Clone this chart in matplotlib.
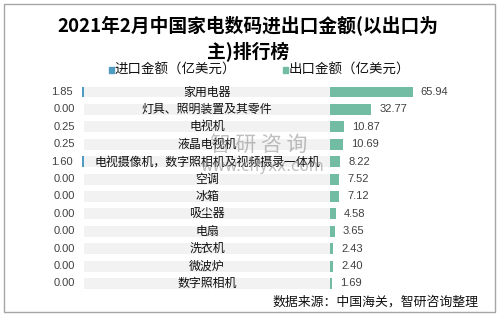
import numpy as np
import matplotlib
matplotlib.use("Agg")
import matplotlib.pyplot as plt
from matplotlib.patches import Rectangle

plt.rcParams['font.family'] = ['Noto Sans CJK SC', 'DejaVu Sans']

# -----------------------------
# Data
# -----------------------------
categories = ["家用电器", "灯具、照明装置及其零件", "电视机", "液晶电视机",
              "电视摄像机，数字照相机及视频摄录一体机", "空调", "冰箱", "吸尘器",
              "电扇", "洗衣机", "微波炉", "数字照相机"]
import_vals = [1.85, 0.00, 0.25, 0.25, 1.60, 0.00, 0.00, 0.00, 0.00, 0.00, 0.00, 0.00]
export_vals = [65.94, 32.77, 10.87, 10.69, 8.22, 7.52, 7.12, 4.58, 3.65, 2.43, 2.40, 1.69]

title = "2021年2月中国家电数码进出口金额(以出口为\n主)排行榜"
legend_labels = ["进口金额（亿美元）", "出口金额（亿美元）"]
source = "数据来源：中国海关，智研咨询整理"

import_color = "#4f9bc1"
export_color = "#72bca4"
strip_color = "#f2f2f2"
text_color = "#404040"

# -----------------------------
# Layout (pixel based)
# -----------------------------
W, H = 497, 315
fig = plt.figure(figsize=(W / 100, H / 100), dpi=100)

def fx(px):
    return px / W

def fy(py):
    return 1 - py / H

ppu = 1.254          # pixels per value unit
zero_px = 330        # export zero line
gap = (330 - 84) / ppu   # width of label strip in value units
ax_left, ax_right = 20, 480
ax_top, ax_bottom = 83.3, 292.2

ax = fig.add_axes([fx(ax_left), fy(ax_bottom), (ax_right - ax_left) / W,
                   (ax_bottom - ax_top) / H])
ax.set_xlim((ax_left - zero_px) / ppu, (ax_right - zero_px) / ppu)
n = len(categories)
y = np.arange(n)
ax.set_ylim(n - 0.5, -0.5)
ax.axis("off")

bh = 0.63
imp = np.array(import_vals)
exp_ = np.array(export_vals)

# gray strips behind the labels
ax.barh(y, [gap] * n, left=-gap, height=bh, color=strip_color, zorder=0)
# import bars grow to the left
ax.barh(y, -imp, left=-gap, height=bh, color=import_color, zorder=2)
# export bars grow to the right
ax.barh(y, exp_, left=0, height=bh, color=export_color, zorder=2)

for i in range(n):
    ax.text(-gap / 2, y[i], categories[i], ha="center", va="center",
            fontsize=8.6, color="#111111", zorder=3)
    ax.text(-gap - imp[i] - 7, y[i], f"{imp[i]:.2f}", ha="right", va="center",
            fontsize=8, family="Liberation Sans", color=text_color)
    ax.text(exp_[i] + 6.5, y[i], f"{exp_[i]:.2f}", ha="left", va="center",
            fontsize=8, family="Liberation Sans", color=text_color)

# -----------------------------
# Title, legend, source
# -----------------------------
fig.text(fx(248), fy(38.5), title, ha="center", va="center", fontsize=13.5,
         fontweight="bold", linespacing=1.3, color="#000000")

leg_y = 70
for px, lab, c in [(109, legend_labels[0], import_color),
                   (283, legend_labels[1], export_color)]:
    fig.add_artist(Rectangle((fx(px), fy(leg_y + 2.5)), 5 / W, 5 / H,
                             transform=fig.transFigure, color=c))
    fig.text(fx(px + 6), fy(leg_y), lab, ha="left", va="center",
             fontsize=9.7, color="#111111")

fig.text(fx(478), fy(302.5), source, ha="right", va="center", fontsize=9.3,
         color="#111111")

# watermark
fig.text(fx(259), fy(145), "智 研 咨 询", ha="center", va="center",
         fontsize=15, color="#808080", alpha=0.5, zorder=5)
fig.text(fx(262), fy(167), "www.chyxx.com", ha="center", va="center",
         fontsize=11, family="DejaVu Sans", color="#808080", alpha=0.5, zorder=5)

# border
fig.add_artist(Rectangle((fx(3.5), fy(312)), (494.5 - 3.5) / W, (312 - 3.5) / H,
                         transform=fig.transFigure, fill=False,
                         edgecolor="#a6a6a6", linewidth=1))

fig.savefig("out.png", dpi=100)
